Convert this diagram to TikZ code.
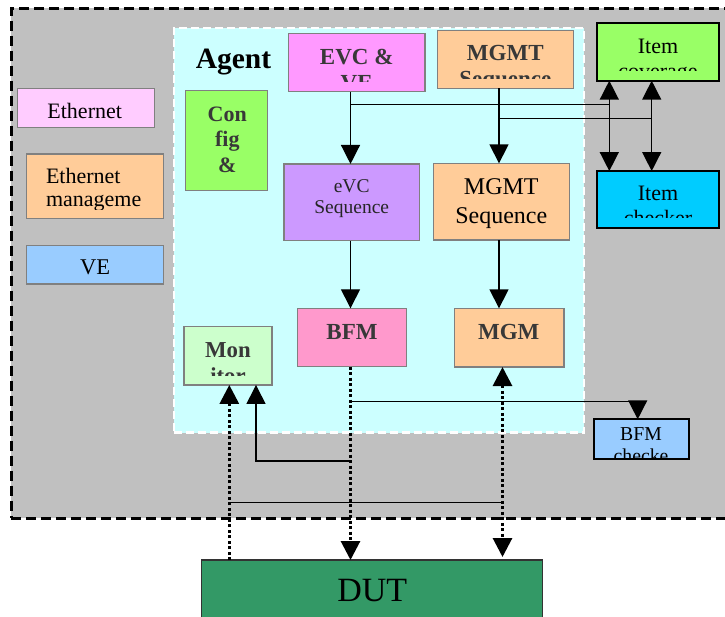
\documentclass[tikz,border=0pt]{standalone}
\usepackage{fontspec}
\setmainfont{Liberation Serif}
\usetikzlibrary{arrows.meta}
\definecolor{envgray}{HTML}{C0C0C0}
\definecolor{agentcyan}{HTML}{CCFFFF}
\definecolor{boxgray}{HTML}{808080}
\definecolor{pinklight}{HTML}{FFCCFF}
\definecolor{peach}{HTML}{FFCC99}
\definecolor{skyblue}{HTML}{99CCFF}
\definecolor{limegreen}{HTML}{99FF66}
\definecolor{magentalight}{HTML}{FF99FF}
\definecolor{brightcyan}{HTML}{00CCFF}
\definecolor{lavender}{HTML}{CC99FF}
\definecolor{rosepink}{HTML}{FF99CC}
\definecolor{mintgreen}{HTML}{CCFFCC}
\definecolor{dutgreen}{HTML}{339966}
\definecolor{labeldark}{HTML}{383838}
\begin{document}
\begin{tikzpicture}[x=1pt,y=-1pt,
  box/.style={draw=boxgray, line width=1.5pt, inner sep=0pt, outer sep=0pt},
  kbox/.style={draw=black, line width=2pt, inner sep=0pt, outer sep=0pt},
  lbl/.style={anchor=base, inner sep=0pt, outer sep=0pt},
  fs/.style={font=\fontsize{#1}{#1}\selectfont},
  fb/.style={font=\fontsize{#1}{#1}\selectfont\bfseries, text=labeldark},
  conn/.style={line width=1.4pt, draw=black},
  dotconn/.style={line width=3pt, draw=black, dash pattern=on 3pt off 2.5pt},
  arrowend/.style={-{Triangle[width=19pt,length=19pt]}},
  arrowboth/.style={{Triangle[width=19pt,length=19pt]}-{Triangle[width=19pt,length=19pt]}},
]
\useasboundingbox (0,0) rectangle (725,617);
\clip (0,0) rectangle (725,617);

% verification environment and agent
\node[draw=black, line width=3pt, dash pattern=on 10pt off 5pt, fill=envgray,
      minimum width=729pt, minimum height=509.7pt, inner sep=0pt] (env) at (375.5,263.15) {};
\node[draw=white, line width=2.5pt, dash pattern=on 8pt off 4pt, fill=agentcyan,
      minimum width=410pt, minimum height=404.7pt, inner sep=0pt] (agent) at (379,230.35) {};
\node[lbl, font=\fontsize{29.5}{29.5}\selectfont\bfseries] (agentT) at (233.5,68.3) {Agent};

% left-hand items
\node[box, fill=pinklight, minimum width=136.6pt, minimum height=39pt] (eth) at (86,107.8) {};
\begin{scope}
  \clip ([yshift=8pt]eth.south west) rectangle (eth.north east);
  \node[lbl, fs=22] (ethT) at (84.7,118.3) {Ethernet};
\end{scope}

\node[box, fill=peach, minimum width=136.6pt, minimum height=64.3pt] (ethm) at (95,186.2) {};
\begin{scope}
  \clip ([yshift=9pt]ethm.south west) rectangle (ethm.north east);
  \node[lbl, fs=22, anchor=base west] (ethmA) at (46,183.3) {Ethernet};
  \node[lbl, fs=22, anchor=base west] (ethmB) at (46,206.7) {manageme};
\end{scope}

\node[box, fill=skyblue, minimum width=136.6pt, minimum height=38.3pt] (ve) at (95,264.9) {};
\begin{scope}
  \clip ([yshift=10pt]ve.south west) rectangle (ve.north east);
  \node[lbl, fs=22.5] (veT) at (95,275) {VE};
\end{scope}

% agent contents
\node[box, fill=limegreen, minimum width=82pt, minimum height=99.6pt] (cfg) at (226.7,140.5) {};
\node[lbl, fb=22] (cfgA) at (227.3,121.7) {Con};
\node[lbl, fb=22] (cfgB) at (227.3,146.7) {fig};
\node[lbl, fb=22] (cfgC) at (227.3,172.5) {\&};

\node[box, fill=magentalight, minimum width=136.7pt, minimum height=58.4pt] (evc) at (356.7,62.5) {};
\begin{scope}
  \clip ([yshift=9.7pt]evc.south west) rectangle (evc.north east);
  \node[lbl, fb=23] (evcA) at (356.7,65) {EVC \&};
  \node[lbl, fb=23] (evcB) at (356.7,91) {VE};
\end{scope}

\node[box, fill=peach, minimum width=136pt, minimum height=57.6pt] (mgmtTop) at (505.3,59.5) {};
\begin{scope}
  \clip ([yshift=10pt]mgmtTop.south west) rectangle (mgmtTop.north east);
  \node[lbl, fb=23] (mgmtTopA) at (505.3,61) {MGMT};
  \node[lbl, fb=23] (mgmtTopB) at (505.3,86.5) {Sequence};
\end{scope}

\node[box, fill=lavender, minimum width=135.3pt, minimum height=76.7pt] (evcSeq) at (351.7,202.3) {};
\node[lbl, fs=19.5, text=black!85] (evcSeqA) at (351.7,192.3) {eVC};
\node[lbl, fs=19.5, text=black!85] (evcSeqB) at (351.7,214) {Sequence};

\node[box, fill=peach, minimum width=136pt, minimum height=76.7pt] (mgmtSeq) at (501.3,201.7) {};
\node[lbl, fs=24] (mgmtSeqA) at (501.3,195) {MGMT};
\node[lbl, fs=24] (mgmtSeqB) at (501.3,223.5) {Sequence};

\node[box, fill=rosepink, minimum width=109.4pt, minimum height=58.4pt] (bfm) at (352,337.5) {};
\node[lbl, fb=23] (bfmT) at (352,339) {BFM};

\node[box, fill=peach, minimum width=109.7pt, minimum height=58.7pt] (mgm) at (509.2,337.7) {};
\node[lbl, fb=23] (mgmT) at (508.7,339) {MGM};

\node[box, fill=mintgreen, minimum width=88pt, minimum height=58.3pt] (mon) at (228,355.8) {};
\begin{scope}
  \clip ([yshift=9pt]mon.south west) rectangle (mon.north east);
  \node[lbl, fb=22.8] (monA) at (228,357.3) {Mon};
  \node[lbl, fb=22.8] (monB) at (228,383) {itor};
\end{scope}

% checkers and coverage
\node[kbox, fill=limegreen, minimum width=122.6pt, minimum height=58pt] (cov) at (658,51.7) {};
\begin{scope}
  \clip ([yshift=10pt]cov.south west) rectangle (cov.north east);
  \node[lbl, fs=22] (covA) at (658,53.3) {Item};
  \node[lbl, fs=22] (covB) at (658,78.3) {coverage};
\end{scope}

\node[kbox, fill=brightcyan, minimum width=122.6pt, minimum height=57.3pt] (chk) at (658,199.7) {};
\begin{scope}
  \clip ([yshift=11pt]chk.south west) rectangle (chk.north east);
  \node[lbl, fs=22] (chkA) at (658,201) {Item};
  \node[lbl, fs=22] (chkB) at (658,226) {checker};
\end{scope}

\node[kbox, fill=skyblue, minimum width=95.3pt, minimum height=40pt] (bfmchk) at (641.7,439.3) {};
\begin{scope}
  \clip ([yshift=2pt]bfmchk.south west) rectangle (bfmchk.north east);
  \node[lbl, fs=19.7] (bfmchkA) at (641,440) {BFM};
  \node[lbl, fs=19.7] (bfmchkB) at (641,462) {checke};
\end{scope}

% device under test
\node[draw=black!80, line width=1.2pt, fill=dutgreen, minimum width=341pt, minimum height=90pt,
      inner sep=0pt, outer sep=0pt] (dut) at (372.2,605) {};
\node[lbl, fs=34] (dutT) at (372.3,601.7) {DUT};

% connector columns and taps
\coordinate (colA) at (350.5,0);
\coordinate (colB) at (499,0);
\coordinate (colC) at (609.3,0);
\coordinate (colD) at (651.7,0);
\coordinate (colE) at (637.7,0);
\coordinate (colF) at (256,0);
\coordinate (colG) at (229.3,0);
\coordinate (colH) at (502.5,0);
\coordinate (tapA) at (350.5,104.3);
\coordinate (tapB) at (499,118.3);
\coordinate (tapC) at (350.5,401.7);
\coordinate (tapD) at (350.5,461);
\coordinate (tapE) at (229.3,502.7);

% sequence flow
\draw[conn, arrowend] (evc.south -| colA) -- (evcSeq.north -| colA);
\draw[conn, arrowend] (mgmtTop.south -| colB) -- (mgmtSeq.north -| colB);
\draw[conn, arrowend] (evcSeq.south -| colA) -- (bfm.north -| colA);
\draw[conn, arrowend] (mgmtSeq.south -| colB) -- (mgm.north -| colB);

% taps to coverage and checker
\draw[conn] (tapA) -- (tapA -| colC);
\draw[conn] (tapB) -- (tapB -| colD);
\draw[conn, arrowboth] (cov.south -| colC) -- (chk.north -| colC);
\draw[conn, arrowboth] (cov.south -| colD) -- (chk.north -| colD);

% BFM to DUT and its taps
\draw[dotconn, arrowend] (bfm.south -| colA) -- (dut.north -| colA);
\draw[conn, arrowend] (tapC) -| (bfmchk.north -| colE);
\draw[conn, arrowend] (tapD) -| (mon.south -| colF);

% DUT side links
\draw[dotconn, arrowend] (dut.north -| colG) -- (mon.south -| colG);
\draw[dotconn, arrowboth, shorten >=3pt] (mgm.south -| colH) -- (dut.north -| colH);
\draw[conn] (tapE) -- (tapE -| colH);
\end{tikzpicture}
\end{document}
